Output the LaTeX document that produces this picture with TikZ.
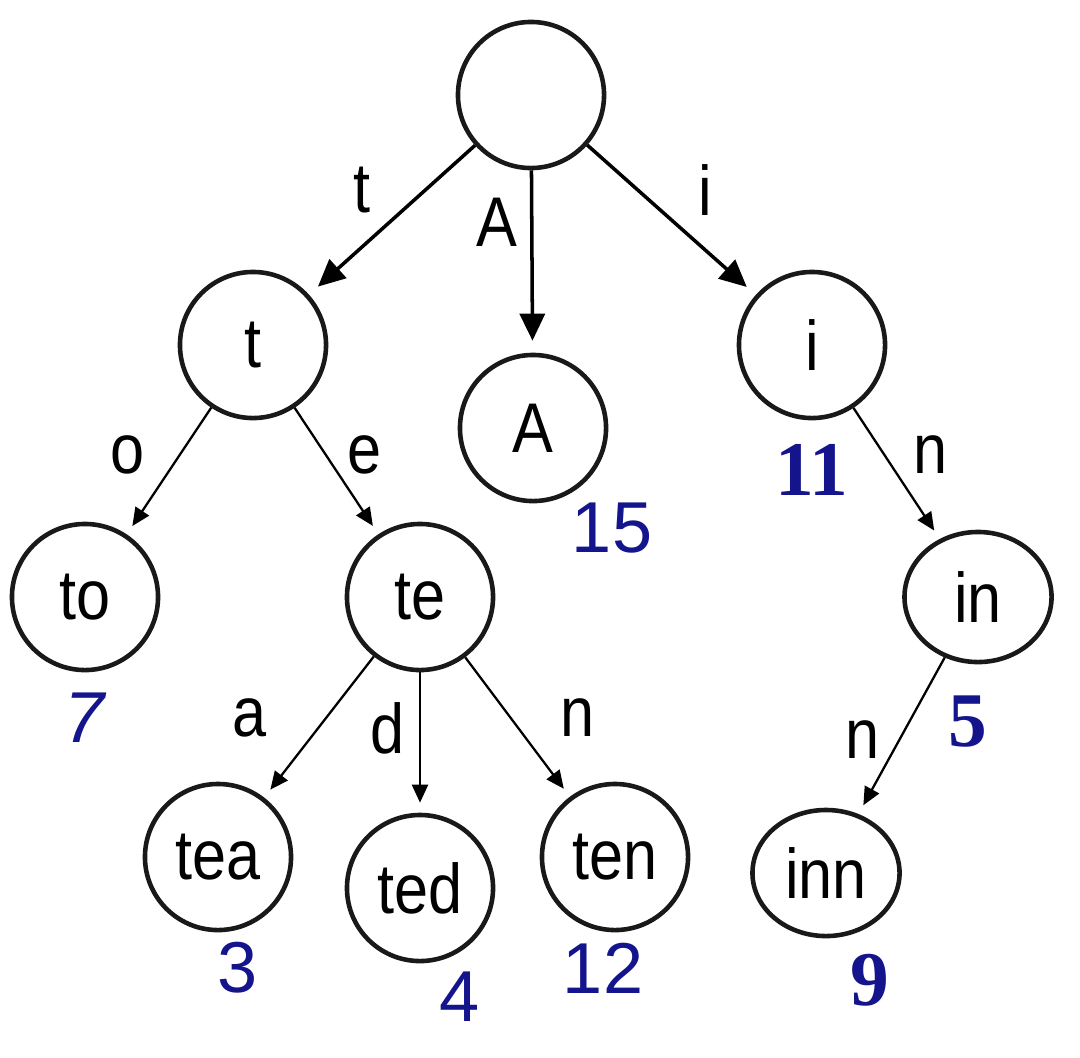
\documentclass[tikz,border=0pt]{standalone}
\usepackage{fontspec}
\setmainfont{Liberation Sans}[FakeStretch=0.87]
\newfontfamily\numsans{Liberation Sans}
\newfontfamily\numserif{Liberation Serif}
\usetikzlibrary{arrows.meta, shapes.geometric}
\definecolor{numblue}{RGB}{20,20,140}
\tikzset{
  trie/.style={circle, draw=black!90, line width=1.3pt, minimum size=1.46cm,
    inner sep=0pt, font=\fontsize{20}{22}\selectfont},
  trieoval/.style={ellipse, draw=black!90, line width=1.3pt, minimum width=1.47cm,
    minimum height=1.3cm, inner sep=0pt, font=\fontsize{20}{22}\selectfont},
  mainarrow/.style={-{Triangle[length=0.27cm,width=0.25cm]}, line width=1pt,
    shorten >=0.12cm},
  subarrow/.style={-{Triangle[length=0.18cm,width=0.16cm]}, line width=0.65pt,
    shorten >=0.1cm},
  edgelbl/.style={font=\fontsize{20}{22}\selectfont},
  count/.style={text=numblue, font=\numsans\fontsize{20.5}{22}\selectfont},
  countb/.style={text=numblue, font=\numserif\bfseries\fontsize{22}{24}\selectfont}
}
\begin{document}
\begin{tikzpicture}[x=0.01cm, y=-0.01cm]
    \useasboundingbox (0,0) rectangle (1080,1057);
    % Nodes
    \node[trie] (root) at (531,95) {};
    \node[trie] (t) at (253,345) {t};
    \node[trie] (A) at (533,428) {A};
    \node[trie] (i) at (812,345) {i};
    \node[trie] (to) at (85,597) {to};
    \node[trie] (te) at (420,597) {te};
    \node[trieoval] (in) at (978,597) {in};
    \node[trie] (tea) at (218,857) {tea};
    \node[trie] (ted) at (420,888) {ted};
    \node[trie] (ten) at (615,857) {ten};
    \node[trieoval, minimum height=1.26cm] (inn) at (826,873) {inn};
    % Edges
    \draw[mainarrow] (root) -- (t);
    \draw[mainarrow] (root) -- (A);
    \draw[mainarrow] (root) -- (i);
    \draw[subarrow] (t) -- (to);
    \draw[subarrow] (t) -- (te);
    \draw[subarrow] (te) -- (tea);
    \draw[subarrow] (te) -- (ted);
    \draw[subarrow] (te) -- (ten);
    \draw[subarrow] (i) -- (in);
    \draw[subarrow] (in) -- (inn);
    % Edge letters
    \node[edgelbl] (lt) at (362,190) {t};
    \node[edgelbl] (lA) at (497,222) {A};
    \node[edgelbl] (li) at (705,190) {i};
    \node[edgelbl] (lo) at (128,455) {o};
    \node[edgelbl] (le) at (365,455) {e};
    \node[edgelbl] (lin) at (930,455) {n};
    \node[edgelbl] (la) at (250,718) {a};
    \node[edgelbl] (ld) at (388,728) {d};
    \node[edgelbl] (lten) at (578,718) {n};
    \node[edgelbl] (linn) at (862,740) {n};
    % Counts
    \node[count] (c15) at (612,528) {15};
    \node[countb] (c11) at (812,470) {11};
    \node[count] (c7) at (85,718) {\itshape 7};
    \node[countb] (c5) at (968,722) {5};
    \node[count] (c3) at (238,968) {3};
    \node[count] (c4) at (460,997) {4};
    \node[count] (c12) at (603,968) {12};
    \node[countb] (c9) at (870,980) {9};
\end{tikzpicture}
\end{document}
